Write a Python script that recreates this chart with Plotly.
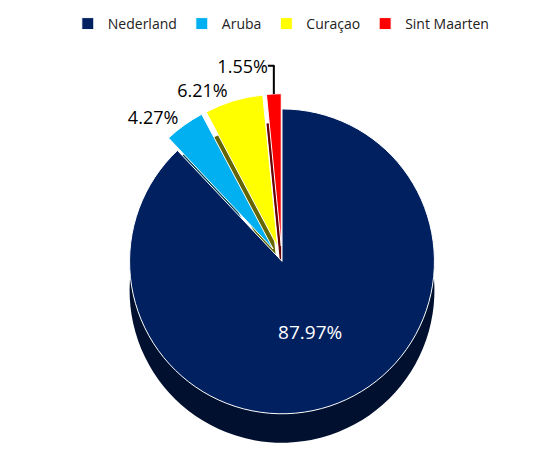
import plotly.graph_objects as go

labels = ["Nederland", "Aruba", "Curaçao", "Sint Maarten"]
values = [87.97, 4.27, 6.21, 1.55]
colors = ["#002060", "#00B0F0", "#FFFF00", "#FF0000"]
side_colors = ["#00102E", "#004A60", "#666600", "#6B0000"]
pulls = [0, 0.1, 0.1, 0.1]
text_colors = ["white", "black", "black", "black"]

# darker copy underneath, offset downwards, to suggest the 3-D depth of the pie
shadow = go.Pie(
    labels=labels,
    values=values,
    sort=False,
    direction="clockwise",
    rotation=0,
    pull=pulls,
    marker=dict(colors=side_colors, line=dict(color="white", width=0)),
    textinfo="none",
    domain=dict(x=[0, 1], y=[0, 0.81]),
    showlegend=False,
    hoverinfo="skip",
)

main = go.Pie(
    labels=labels,
    values=values,
    sort=False,
    direction="clockwise",
    rotation=0,
    pull=pulls,
    marker=dict(colors=colors, line=dict(color="white", width=1)),
    texttemplate="%{percent:.2%}",
    textposition=["inside", "outside", "outside", "outside"],
    insidetextorientation="horizontal",
    textfont=dict(size=19, color=text_colors, family="Open Sans"),
    outsidetextfont=dict(size=18, color="black", family="Open Sans"),
    domain=dict(x=[0, 1], y=[0.07, 0.88]),
    showlegend=True,
    hoverinfo="label+percent",
)

fig = go.Figure([shadow, main])

fig.update_layout(
    width=546,
    height=452,
    paper_bgcolor="white",
    plot_bgcolor="white",
    margin=dict(l=0, r=0, t=32, b=2),
    font=dict(family="Open Sans", size=14, color="#222"),
    legend=dict(
        orientation="h",
        x=-0.01,
        xanchor="left",
        y=1.01,
        yanchor="bottom",
        font=dict(size=14, color="#222"),
        itemwidth=30,
    ),
)

fig.write_html("out.html")
